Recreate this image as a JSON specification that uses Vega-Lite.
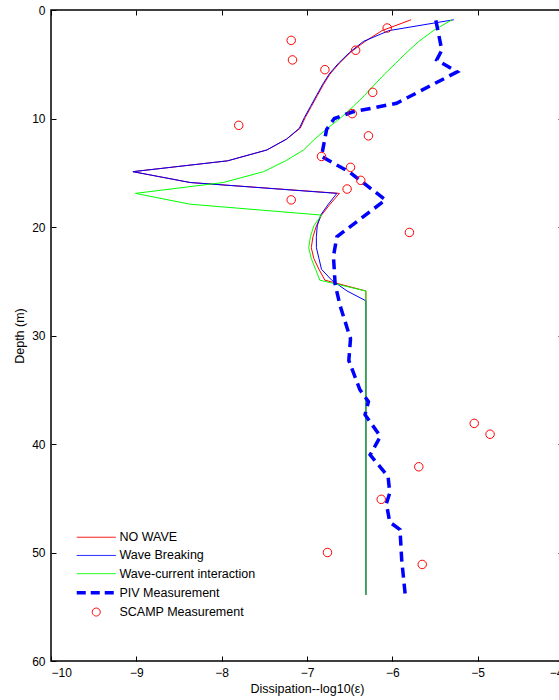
{
  "$schema": "https://vega.github.io/schema/vega-lite/v6.json",
  "autosize": "none",
  "padding": {"left": 51, "top": 10, "right": 0, "bottom": 39},
  "width": 512,
  "height": 651,
  "background": "white",
  "config": {
    "view": {"stroke": "black", "strokeWidth": 1.5},
    "font": "Liberation Sans",
    "axis": {
      "labelFont": "Liberation Sans", "labelFontSize": 12, "labelColor": "black",
      "titleFont": "Liberation Sans", "titleFontSize": 12.5, "titleFontWeight": "normal", "titleColor": "black",
      "tickColor": "black", "domain": false, "grid": false, "tickSize": -5, "labelPadding": 11
    },
    "legend": {
      "labelFont": "Liberation Sans", "labelFontSize": 12.5, "labelColor": "black"
    }
  },
  "data": {"values": [
    {"series":"NO WAVE","order":1,"dissipation":-5.78,"depth":0.9},
    {"series":"NO WAVE","order":2,"dissipation":-6.12,"depth":1.9},
    {"series":"NO WAVE","order":3,"dissipation":-6.32,"depth":2.9},
    {"series":"NO WAVE","order":4,"dissipation":-6.49,"depth":3.9},
    {"series":"NO WAVE","order":5,"dissipation":-6.62,"depth":4.9},
    {"series":"NO WAVE","order":6,"dissipation":-6.73,"depth":5.9},
    {"series":"NO WAVE","order":7,"dissipation":-6.81,"depth":6.9},
    {"series":"NO WAVE","order":8,"dissipation":-6.88,"depth":7.9},
    {"series":"NO WAVE","order":9,"dissipation":-6.95,"depth":8.9},
    {"series":"NO WAVE","order":10,"dissipation":-7.02,"depth":9.9},
    {"series":"NO WAVE","order":11,"dissipation":-7.08,"depth":10.9},
    {"series":"NO WAVE","order":12,"dissipation":-7.24,"depth":11.9},
    {"series":"NO WAVE","order":13,"dissipation":-7.47,"depth":12.9},
    {"series":"NO WAVE","order":14,"dissipation":-7.93,"depth":13.9},
    {"series":"NO WAVE","order":15,"dissipation":-9.04,"depth":14.9},
    {"series":"NO WAVE","order":16,"dissipation":-8.37,"depth":15.9},
    {"series":"NO WAVE","order":17,"dissipation":-6.62,"depth":16.9},
    {"series":"NO WAVE","order":18,"dissipation":-6.73,"depth":17.9},
    {"series":"NO WAVE","order":19,"dissipation":-6.83,"depth":18.9},
    {"series":"NO WAVE","order":20,"dissipation":-6.89,"depth":19.9},
    {"series":"NO WAVE","order":21,"dissipation":-6.93,"depth":20.9},
    {"series":"NO WAVE","order":22,"dissipation":-6.95,"depth":21.9},
    {"series":"NO WAVE","order":23,"dissipation":-6.92,"depth":22.9},
    {"series":"NO WAVE","order":24,"dissipation":-6.86,"depth":23.9},
    {"series":"NO WAVE","order":25,"dissipation":-6.79,"depth":24.9},
    {"series":"NO WAVE","order":26,"dissipation":-6.31,"depth":25.9},
    {"series":"NO WAVE","order":27,"dissipation":-6.31,"depth":53.9},

    {"series":"Wave Breaking","order":1,"dissipation":-5.28,"depth":0.9},
    {"series":"Wave Breaking","order":2,"dissipation":-6.04,"depth":1.9},
    {"series":"Wave Breaking","order":3,"dissipation":-6.34,"depth":2.9},
    {"series":"Wave Breaking","order":4,"dissipation":-6.50,"depth":3.9},
    {"series":"Wave Breaking","order":5,"dissipation":-6.63,"depth":4.9},
    {"series":"Wave Breaking","order":6,"dissipation":-6.74,"depth":5.9},
    {"series":"Wave Breaking","order":7,"dissipation":-6.82,"depth":6.9},
    {"series":"Wave Breaking","order":8,"dissipation":-6.89,"depth":7.9},
    {"series":"Wave Breaking","order":9,"dissipation":-6.96,"depth":8.9},
    {"series":"Wave Breaking","order":10,"dissipation":-7.03,"depth":9.9},
    {"series":"Wave Breaking","order":11,"dissipation":-7.09,"depth":10.9},
    {"series":"Wave Breaking","order":12,"dissipation":-7.24,"depth":11.9},
    {"series":"Wave Breaking","order":13,"dissipation":-7.47,"depth":12.9},
    {"series":"Wave Breaking","order":14,"dissipation":-7.93,"depth":13.9},
    {"series":"Wave Breaking","order":15,"dissipation":-9.04,"depth":14.9},
    {"series":"Wave Breaking","order":16,"dissipation":-8.37,"depth":15.9},
    {"series":"Wave Breaking","order":17,"dissipation":-6.65,"depth":16.9},
    {"series":"Wave Breaking","order":18,"dissipation":-6.75,"depth":17.9},
    {"series":"Wave Breaking","order":19,"dissipation":-6.84,"depth":18.9},
    {"series":"Wave Breaking","order":20,"dissipation":-6.88,"depth":19.9},
    {"series":"Wave Breaking","order":21,"dissipation":-6.89,"depth":20.9},
    {"series":"Wave Breaking","order":22,"dissipation":-6.89,"depth":21.9},
    {"series":"Wave Breaking","order":23,"dissipation":-6.86,"depth":22.9},
    {"series":"Wave Breaking","order":24,"dissipation":-6.83,"depth":23.9},
    {"series":"Wave Breaking","order":25,"dissipation":-6.71,"depth":24.9},
    {"series":"Wave Breaking","order":26,"dissipation":-6.53,"depth":25.9},
    {"series":"Wave Breaking","order":27,"dissipation":-6.31,"depth":26.8},
    {"series":"Wave Breaking","order":28,"dissipation":-6.31,"depth":53.9},

    {"series":"Wave-current interaction","order":1,"dissipation":-5.30,"depth":0.9},
    {"series":"Wave-current interaction","order":2,"dissipation":-5.52,"depth":1.9},
    {"series":"Wave-current interaction","order":3,"dissipation":-5.69,"depth":2.9},
    {"series":"Wave-current interaction","order":4,"dissipation":-5.83,"depth":3.9},
    {"series":"Wave-current interaction","order":5,"dissipation":-5.96,"depth":4.9},
    {"series":"Wave-current interaction","order":6,"dissipation":-6.09,"depth":5.9},
    {"series":"Wave-current interaction","order":7,"dissipation":-6.21,"depth":6.9},
    {"series":"Wave-current interaction","order":8,"dissipation":-6.33,"depth":7.9},
    {"series":"Wave-current interaction","order":9,"dissipation":-6.46,"depth":8.9},
    {"series":"Wave-current interaction","order":10,"dissipation":-6.60,"depth":9.9},
    {"series":"Wave-current interaction","order":11,"dissipation":-6.76,"depth":10.9},
    {"series":"Wave-current interaction","order":12,"dissipation":-6.91,"depth":11.9},
    {"series":"Wave-current interaction","order":13,"dissipation":-7.04,"depth":12.9},
    {"series":"Wave-current interaction","order":14,"dissipation":-7.25,"depth":13.9},
    {"series":"Wave-current interaction","order":15,"dissipation":-7.51,"depth":14.9},
    {"series":"Wave-current interaction","order":16,"dissipation":-7.98,"depth":15.9},
    {"series":"Wave-current interaction","order":17,"dissipation":-9.01,"depth":16.9},
    {"series":"Wave-current interaction","order":18,"dissipation":-8.37,"depth":17.9},
    {"series":"Wave-current interaction","order":19,"dissipation":-6.83,"depth":18.9},
    {"series":"Wave-current interaction","order":20,"dissipation":-6.92,"depth":19.9},
    {"series":"Wave-current interaction","order":21,"dissipation":-6.96,"depth":20.9},
    {"series":"Wave-current interaction","order":22,"dissipation":-6.98,"depth":21.9},
    {"series":"Wave-current interaction","order":23,"dissipation":-6.95,"depth":22.9},
    {"series":"Wave-current interaction","order":24,"dissipation":-6.90,"depth":23.9},
    {"series":"Wave-current interaction","order":25,"dissipation":-6.85,"depth":24.9},
    {"series":"Wave-current interaction","order":26,"dissipation":-6.31,"depth":25.9},
    {"series":"Wave-current interaction","order":27,"dissipation":-6.31,"depth":53.9},

    {"series":"PIV Measurement","order":1,"dissipation":-5.49,"depth":0.95},
    {"series":"PIV Measurement","order":2,"dissipation":-5.42,"depth":3.7},
    {"series":"PIV Measurement","order":3,"dissipation":-5.48,"depth":4.6},
    {"series":"PIV Measurement","order":4,"dissipation":-5.24,"depth":5.7},
    {"series":"PIV Measurement","order":5,"dissipation":-5.95,"depth":8.6},
    {"series":"PIV Measurement","order":6,"dissipation":-6.47,"depth":9.4},
    {"series":"PIV Measurement","order":7,"dissipation":-6.68,"depth":10.0},
    {"series":"PIV Measurement","order":8,"dissipation":-6.77,"depth":11.0},
    {"series":"PIV Measurement","order":9,"dissipation":-6.83,"depth":13.5},
    {"series":"PIV Measurement","order":10,"dissipation":-6.51,"depth":14.9},
    {"series":"PIV Measurement","order":11,"dissipation":-6.08,"depth":17.5},
    {"series":"PIV Measurement","order":12,"dissipation":-6.65,"depth":20.9},
    {"series":"PIV Measurement","order":13,"dissipation":-6.69,"depth":22.7},
    {"series":"PIV Measurement","order":14,"dissipation":-6.67,"depth":25.3},
    {"series":"PIV Measurement","order":15,"dissipation":-6.61,"depth":27.3},
    {"series":"PIV Measurement","order":16,"dissipation":-6.49,"depth":30.3},
    {"series":"PIV Measurement","order":17,"dissipation":-6.51,"depth":32.3},
    {"series":"PIV Measurement","order":18,"dissipation":-6.38,"depth":35.0},
    {"series":"PIV Measurement","order":19,"dissipation":-6.28,"depth":36.1},
    {"series":"PIV Measurement","order":20,"dissipation":-6.32,"depth":37.3},
    {"series":"PIV Measurement","order":21,"dissipation":-6.14,"depth":39.3},
    {"series":"PIV Measurement","order":22,"dissipation":-6.26,"depth":41.0},
    {"series":"PIV Measurement","order":23,"dissipation":-6.05,"depth":43.0},
    {"series":"PIV Measurement","order":24,"dissipation":-6.03,"depth":44.5},
    {"series":"PIV Measurement","order":25,"dissipation":-6.07,"depth":45.5},
    {"series":"PIV Measurement","order":26,"dissipation":-6.03,"depth":47.2},
    {"series":"PIV Measurement","order":27,"dissipation":-5.91,"depth":47.9},
    {"series":"PIV Measurement","order":28,"dissipation":-5.89,"depth":50.7},
    {"series":"PIV Measurement","order":29,"dissipation":-5.85,"depth":53.8},

    {"series":"SCAMP Measurement","order":1,"dissipation":-6.06,"depth":1.66},
    {"series":"SCAMP Measurement","order":2,"dissipation":-7.185,"depth":2.8},
    {"series":"SCAMP Measurement","order":3,"dissipation":-7.17,"depth":4.6},
    {"series":"SCAMP Measurement","order":4,"dissipation":-6.43,"depth":3.71},
    {"series":"SCAMP Measurement","order":5,"dissipation":-6.79,"depth":5.5},
    {"series":"SCAMP Measurement","order":6,"dissipation":-6.23,"depth":7.59},
    {"series":"SCAMP Measurement","order":7,"dissipation":-6.47,"depth":9.55},
    {"series":"SCAMP Measurement","order":8,"dissipation":-7.80,"depth":10.63},
    {"series":"SCAMP Measurement","order":9,"dissipation":-6.28,"depth":11.6},
    {"series":"SCAMP Measurement","order":10,"dissipation":-6.83,"depth":13.5},
    {"series":"SCAMP Measurement","order":11,"dissipation":-6.49,"depth":14.5},
    {"series":"SCAMP Measurement","order":12,"dissipation":-6.37,"depth":15.7},
    {"series":"SCAMP Measurement","order":13,"dissipation":-6.53,"depth":16.5},
    {"series":"SCAMP Measurement","order":14,"dissipation":-7.185,"depth":17.5},
    {"series":"SCAMP Measurement","order":15,"dissipation":-5.80,"depth":20.5},
    {"series":"SCAMP Measurement","order":16,"dissipation":-5.04,"depth":38.1},
    {"series":"SCAMP Measurement","order":17,"dissipation":-4.855,"depth":39.1},
    {"series":"SCAMP Measurement","order":18,"dissipation":-5.69,"depth":42.1},
    {"series":"SCAMP Measurement","order":19,"dissipation":-6.13,"depth":45.1},
    {"series":"SCAMP Measurement","order":20,"dissipation":-6.76,"depth":50.0},
    {"series":"SCAMP Measurement","order":21,"dissipation":-5.65,"depth":51.1}
  ]},
  "resolve": {"axis": {"x": "independent", "y": "independent"}},
  "layer": [
    {
      "transform": [{"filter": "datum.series === 'NO WAVE'"}],
      "mark": {"type": "line", "strokeWidth": 1, "clip": true},
      "encoding": {
        "x": {"field": "dissipation", "type": "quantitative",
              "scale": {"domain": [-10, -4], "nice": false, "zero": false},
              "axis": {"orient": "bottom", "values": [-10,-9,-8,-7,-6,-5,-4], "format": "d", "title": "Dissipation--log10(ε)", "titlePadding": 4}},
        "y": {"field": "depth", "type": "quantitative",
              "scale": {"domain": [0, 60], "nice": false, "zero": false, "reverse": true},
              "axis": {"orient": "left", "values": [0,10,20,30,40,50,60], "format": "d", "title": "Depth (m)", "titlePadding": 5}},
        "order": {"field": "order", "type": "quantitative"},
        "color": {"field": "series", "type": "nominal",
          "scale": {"domain": ["NO WAVE","Wave Breaking","Wave-current interaction","PIV Measurement","SCAMP Measurement"],
                    "range": ["#ff0000","#0000ff","#00ff00","#0000ff","#ff0000"]},
          "legend": {
            "title": null, "orient": "none", "legendX": 39, "legendY": 521,
            "padding": 0, "symbolSize": 100, "symbolStrokeWidth": 1, "labelOffset": 17, "rowPadding": 5.2,
            "symbolType": "stroke",
            "encode": {"symbols": {"update": {
              "shape": {"signal": "datum.value === 'SCAMP Measurement' ? 'M-0.8,0A0.8,0.8,0,1,1,0.8,0A0.8,0.8,0,1,1,-0.8,0' : 'M-3.9,0H3.9'"},
              "strokeDash": {"signal": "datum.value === 'PIV Measurement' ? [9,5] : [1,0]"},
              "strokeWidth": {"signal": "datum.value === 'PIV Measurement' ? 3.5 : 1"},
              "fill": {"value": "transparent"},
              "stroke": {"scale": "color", "field": "value"},
              "opacity": {"value": 1}
            }}}
          }}
      }
    },
    {
      "transform": [{"filter": "datum.series === 'Wave Breaking'"}],
      "mark": {"type": "line", "strokeWidth": 1, "clip": true},
      "encoding": {
        "x": {"field": "dissipation", "type": "quantitative", "axis": null},
        "y": {"field": "depth", "type": "quantitative", "axis": null},
        "order": {"field": "order", "type": "quantitative"},
        "color": {"field": "series", "type": "nominal"}
      }
    },
    {
      "transform": [{"filter": "datum.series === 'Wave-current interaction'"}],
      "mark": {"type": "line", "strokeWidth": 1, "clip": true},
      "encoding": {
        "x": {"field": "dissipation", "type": "quantitative", "axis": null},
        "y": {"field": "depth", "type": "quantitative", "axis": null},
        "order": {"field": "order", "type": "quantitative"},
        "color": {"field": "series", "type": "nominal"}
      }
    },
    {
      "transform": [{"filter": "datum.series === 'PIV Measurement'"}],
      "mark": {"type": "line", "strokeWidth": 3.5, "strokeDash": [10, 6], "clip": true},
      "encoding": {
        "x": {"field": "dissipation", "type": "quantitative", "axis": null},
        "y": {"field": "depth", "type": "quantitative", "axis": null},
        "order": {"field": "order", "type": "quantitative"},
        "color": {"field": "series", "type": "nominal"}
      }
    },
    {
      "transform": [{"filter": "datum.series === 'SCAMP Measurement'"}],
      "mark": {"type": "point", "shape": "circle", "filled": false, "size": 72, "strokeWidth": 1, "opacity": 1},
      "encoding": {
        "x": {"field": "dissipation", "type": "quantitative",
              "axis": {"orient": "top", "values": [-10,-9,-8,-7,-6,-5,-4], "labels": false, "title": null}},
        "y": {"field": "depth", "type": "quantitative",
              "axis": {"orient": "right", "values": [0,10,20,30,40,50,60], "labels": false, "title": null}},
        "color": {"field": "series", "type": "nominal"}
      }
    }
  ]
}
